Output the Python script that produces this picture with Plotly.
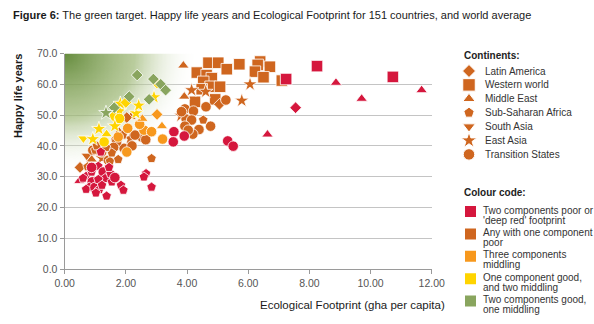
import numpy as np
import plotly.graph_objects as go

# ---------------------------------------------------------------- data
# Ecological Footprint (gha per capita), Happy life years, region code
# Region codes: L Latin America, W Western world, M Middle East,
# A Sub-Saharan Africa, S South Asia, E East Asia, T Transition States

red_fp = [0.48, 0.70, 0.88, 1.10, 1.18, 0.90, 0.80, 0.70, 0.99, 1.13, 1.02, 1.26, 1.32, 1.10,
          1.50, 1.54, 1.64, 1.37, 1.84, 1.92, 0.88, 0.60, 1.22, 1.45, 2.66, 2.59, 2.84,
          3.57, 3.55, 3.91, 5.33, 5.51, 7.55, 6.63, 7.24, 8.25, 8.87, 9.71, 10.73, 11.67]
red_hly = [28.6, 30.1, 31.5, 33.4, 38.0, 28.3, 26.6, 25.9, 26.5, 25.8, 24.7, 31.5, 29.4, 29.1,
           31.0, 28.3, 29.7, 23.7, 27.2, 25.6, 33.0, 29.5, 27.2, 33.0, 31.0, 29.9, 26.6,
           44.6, 41.3, 43.2, 41.6, 39.9, 52.4, 43.7, 61.7, 65.9, 60.5, 55.3, 62.4, 58.1]
red_reg = ["M", "A", "A", "A", "A", "T", "A", "A", "T", "A", "A", "T", "A", "A",
           "A", "A", "T", "A", "A", "A", "T", "A", "A", "A", "A", "A", "A",
           "T", "T", "T", "T", "T", "L", "M", "W", "W", "M", "M", "W", "M"]

poor_fp = [4.70, 5.02, 5.30, 5.71, 4.32, 4.64, 4.81, 4.53, 4.77, 4.48, 6.39, 6.31, 6.71, 6.22,
           6.50, 7.10, 4.26, 4.92, 5.08,
           4.15, 4.61, 6.06, 5.79, 3.80, 2.14, 1.22,
           3.88, 3.91, 1.78, 0.88, 2.16,
           5.06, 0.50, 2.03,
           0.72,
           5.27, 4.62, 3.93, 4.21, 3.97, 4.15, 3.93, 4.39, 4.19, 4.77, 4.04, 0.92, 1.21, 1.68,
           1.94, 1.70, 2.52, 3.82, 1.43, 1.13, 2.30, 1.60, 2.20, 2.65,
           4.53, 0.75, 1.48, 1.75, 1.54, 2.84, 1.00, 1.05, 1.90, 1.35]
poor_hly = [67.0, 67.0, 64.9, 66.5, 63.8, 63.0, 62.0, 60.8, 59.2, 58.4, 67.4, 66.3, 65.7, 64.1,
            62.3, 61.2, 54.3, 55.1, 59.2,
            58.1, 57.6, 60.0, 54.7, 49.8, 42.4, 36.0,
            66.1, 56.0, 44.6, 35.6, 49.4,
            53.5, 33.0, 49.2,
            36.8,
            54.9, 52.7, 52.0, 51.3, 48.7, 48.4, 46.4, 45.3, 43.8, 46.4, 45.1, 38.6, 38.0, 41.9,
            39.2, 41.3, 42.9, 51.1, 35.3, 38.4, 43.5, 39.5, 40.0, 42.0,
            48.4, 33.2, 35.0, 35.6, 37.7, 35.9, 38.6, 40.0, 43.5, 39.5]
poor_reg = ["W"] * 19 + ["E"] * 7 + ["M"] * 5 + ["L"] * 3 + ["S"] + ["T"] * 24 + ["A"] * 10

mid_fp = [2.06, 2.03, 2.59, 2.84, 3.20, 1.75, 2.45, 2.54, 3.18, 3.02]
mid_hly = [45.7, 38.0, 45.1, 44.6, 42.2, 42.9, 47.0, 48.8, 46.4, 50.2]
mid_reg = ["T", "T", "T", "T", "T", "T", "T", "M", "M", "L"]

onegood_fp = [0.61, 0.92, 1.12, 1.29, 1.37, 1.60, 1.79, 1.82, 2.00, 1.79, 2.33, 2.42, 2.92, 3.02, 1.64]
onegood_hly = [42.4, 42.2, 45.5, 41.3, 43.8, 49.6, 51.3, 53.7, 54.1, 48.9, 50.6, 53.1, 55.8, 60.4, 46.4]
onegood_reg = ["S", "E", "E", "T", "M", "L", "E", "E", "L", "T", "E", "E", "E", "L", "E"]

twogood_fp = [2.37, 2.90, 3.14, 3.30, 2.76, 2.11, 1.62, 1.35]
twogood_hly = [63.0, 61.7, 60.0, 58.1, 55.1, 56.0, 52.4, 50.7]
twogood_reg = ["L", "L", "L", "L", "L", "L", "L", "E"]

continents = ["Latin America", "Western world", "Middle East", "Sub-Saharan Africa",
              "South Asia", "East Asia", "Transition States"]
continent_codes = ["L", "W", "M", "A", "S", "E", "T"]
colour_labels = [["Two components poor or", "'deep red' footprint"],
                 ["Any with one component", "poor"],
                 ["Three components", "middling"],
                 ["One component good,", "and two middling"],
                 ["Two components good,", "one middling"]]

# ---------------------------------------------------------------- styling
RED, POOR, MID, ONEGOOD, TWOGOOD = "#D5173D", "#CF661F", "#F7981D", "#FFD400", "#89A55E"
SYMBOL = {"L": "diamond", "W": "square", "M": "triangle-up", "A": "pentagon",
          "S": "triangle-down", "E": "star", "T": "circle"}
SIZE = {"L": 9, "W": 11.5, "M": 10, "A": 10, "S": 10, "E": 11, "T": 10.5}
FONT = "Liberation Sans, Arial, sans-serif"

W, H = 594, 324
PL, PR, PT, PB = 64.7, 431.7, 53.5, 269.0   # plot area in pixels

fig = go.Figure()

# soft green "target" glow in the top-left corner of the plot
gx = np.linspace(0, 4.8, 110)
gy = np.linspace(30, 70, 110)
GX, GY = np.meshgrid(gx, gy)
dpx = GX * (PR - PL) / 12.0
dpy = (70 - GY) * (PB - PT) / 70.0
dist = np.sqrt((dpx / 135.0) ** 2 + (dpy / 122.0) ** 2)
glow = np.clip(1 - dist, 0, 1) ** 1.1
fig.add_trace(go.Heatmap(
    x=gx, y=gy, z=glow, zmin=0, zmax=1, zsmooth="best", showscale=False, hoverinfo="skip",
    colorscale=[[0, "rgba(255,255,255,0)"], [0.45, "rgba(158,184,118,0.72)"], [1, "rgba(102,140,62,1)"]],
))


def add_band(fp, hly, reg, colour, name):
    fig.add_trace(go.Scatter(
        x=fp, y=hly, mode="markers", name=name, showlegend=False, cliponaxis=False,
        marker=dict(symbol=[SYMBOL[r] for r in reg], size=[SIZE[r] for r in reg], opacity=1,
                    color=colour, line=dict(color="white", width=0.8)),
    ))


add_band(poor_fp, poor_hly, poor_reg, POOR, "one poor")
add_band(mid_fp, mid_hly, mid_reg, MID, "middling")
add_band(onegood_fp, onegood_hly, onegood_reg, ONEGOOD, "one good")
add_band(twogood_fp, twogood_hly, twogood_reg, TWOGOOD, "two good")
add_band(red_fp, red_hly, red_reg, RED, "deep red")

# ---------------------------------------------------------------- key (pixel-space helper axes)
annotations = []
key_font = dict(family=FONT, size=10, color="#333")
head_font = dict(family=FONT, size=10, color="#222")

cont_y0, cont_step = 71.0, 13.9
fig.add_trace(go.Scatter(
    x=[469.0] * len(continents),
    y=[cont_y0 + i * cont_step for i in range(len(continents))],
    mode="markers", xaxis="x2", yaxis="y2", showlegend=False, hoverinfo="skip",
    marker=dict(symbol=[SYMBOL[c] for c in continent_codes], opacity=1,
                size=[SIZE[c] + 1 for c in continent_codes], color=POOR),
))
annotations.append(dict(x=462, y=55, xref="x2", yref="y2", text="<b>Continents:</b>",
                        showarrow=False, xanchor="left", yanchor="middle", font=head_font))
for i, lab in enumerate(continents):
    annotations.append(dict(x=483, y=cont_y0 + i * cont_step, xref="x2", yref="y2", text=lab,
                            showarrow=False, xanchor="left", yanchor="middle", font=key_font))

code_y0, code_step, line_step = 211.5, 22.4, 10.0
fig.add_trace(go.Scatter(
    x=[470.5] * len(colour_labels),
    y=[code_y0 + i * code_step for i in range(len(colour_labels))],
    mode="markers", xaxis="x2", yaxis="y2", showlegend=False, hoverinfo="skip",
    marker=dict(symbol="square", size=11, opacity=1, color=[RED, POOR, MID, ONEGOOD, TWOGOOD]),
))
annotations.append(dict(x=462, y=192, xref="x2", yref="y2", text="<b>Colour code:</b>",
                        showarrow=False, xanchor="left", yanchor="middle", font=head_font))
for i, lines in enumerate(colour_labels):
    for j, txt in enumerate(lines):
        annotations.append(dict(x=482, y=code_y0 + i * code_step - 1.5 + j * line_step,
                                xref="x2", yref="y2", text=txt, showarrow=False, borderpad=0,
                                xanchor="left", yanchor="middle", font=key_font))

# ---------------------------------------------------------------- titles
annotations.append(dict(
    x=11 / W, y=1 - 15 / H, xref="paper", yref="paper", showarrow=False,
    xanchor="left", yanchor="middle",
    text="<b>Figure 6:</b> The green target. Happy life years and Ecological Footprint for 151 countries, and world average",
    font=dict(family=FONT, size=11, color="#1a1a1a")))
annotations.append(dict(
    x=18 / W, y=1 - 96 / H, xref="paper", yref="paper", showarrow=False, textangle=-90,
    xanchor="center", yanchor="middle", text="<b>Happy life years</b>",
    font=dict(family=FONT, size=11, color="#1a1a1a")))
annotations.append(dict(
    x=447 / W, y=1 - 305 / H, xref="paper", yref="paper", showarrow=False,
    xanchor="right", yanchor="middle", text="Ecological Footprint (gha per capita)",
    font=dict(family=FONT, size=11.5, color="#1a1a1a")))

fig.update_layout(
    width=W, height=H, autosize=False,
    margin=dict(l=0, r=0, t=0, b=0, pad=0, autoexpand=False),
    paper_bgcolor="white", plot_bgcolor="rgba(0,0,0,0)",
    showlegend=False, annotations=annotations,
    xaxis=dict(domain=[PL / W, PR / W], range=[0, 12], dtick=2, tickformat=".2f",
               showgrid=False, zeroline=False, showline=True, linecolor="#9a9a9a", linewidth=1.3,
               ticks="outside", ticklen=4, tickcolor="#9a9a9a", automargin=False,
               tickfont=dict(family=FONT, size=10.5, color="#555"), fixedrange=True),
    yaxis=dict(domain=[1 - PB / H, 1 - PT / H], range=[0, 70], dtick=10, tickformat=".1f",
               showgrid=True, gridcolor="#c4c4c4", gridwidth=1.3, zeroline=False,
               showline=True, linecolor="#9a9a9a", linewidth=1.3, automargin=False,
               ticks="outside", ticklen=4, tickcolor="#9a9a9a",
               tickfont=dict(family=FONT, size=10.5, color="#555"), fixedrange=True),
    xaxis2=dict(domain=[0.745, 1], range=[0.745 * W, W], visible=False, anchor="y2", fixedrange=True),
    yaxis2=dict(domain=[0, 1], range=[H, 0], visible=False, anchor="x2", fixedrange=True),
)

fig.write_html("out.html")
